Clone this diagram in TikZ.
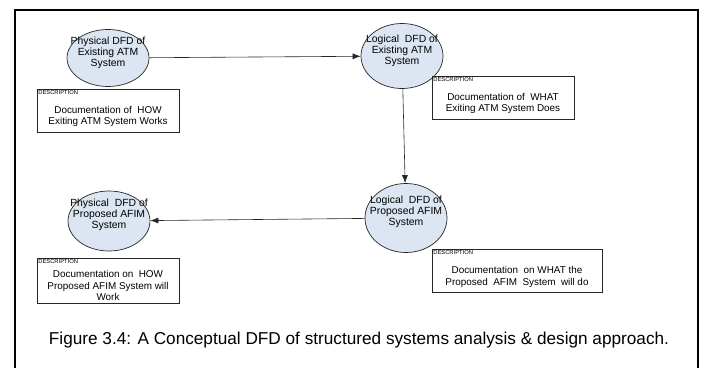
\documentclass[tikz,border=0pt]{standalone}
\usepackage{fontspec}
\setmainfont{Liberation Sans}
\usetikzlibrary{positioning,shapes,arrows,arrows.meta}
\definecolor{procfill}{RGB}{220,229,242}
\tikzstyle{ProcNode}=[ellipse, draw=black!85, fill=procfill, line width=0.7pt, minimum width=82pt, minimum height=60pt, inner sep=0pt]
\tikzstyle{ProcText}=[align=center, inner sep=0pt, font=\fontsize{10.4}{10.8}\selectfont]
\tikzstyle{DescBox}=[rectangle, draw=black!85, line width=0.7pt, minimum width=142pt, minimum height=43pt, inner sep=0pt]
\tikzstyle{DescTag}=[anchor=north west, inner sep=1.5pt, font=\fontsize{5.8}{6}\selectfont]
\tikzstyle{DescText}=[align=center, inner sep=0pt, font=\fontsize{9.9}{11.5}\selectfont]
\tikzstyle{Flow}=[-{Latex[length=8pt,width=6pt]}, line width=0.6pt, black!85]

\begin{document}
\begin{tikzpicture}[x=1pt, y=-1pt]
      \useasboundingbox (0,0) rectangle (704,367);
      % outer frame, cut off at the bottom
      \draw[line width=1.3pt] (15,380) |- (698,10) -- (698,380);
      % processes
      \node[ProcNode, minimum height=57pt] (e1) at (108,58) {};
      \node[ProcText] (e1t) at ([yshift=5pt]e1.center) {Physical DFD of\\Existing ATM\\System};
      \node[ProcNode, minimum height=65pt] (e2) at (402,56) {};
      \node[ProcText] (e2t) at ([yshift=5pt]e2.center) {Logical\ \ DFD of\\Existing ATM\\System};
      \node[ProcNode, minimum height=69pt] (e3) at (406,218) {};
      \node[ProcText] (e3t) at ([yshift=6pt]e3.center) {Logical\ \ DFD of\\Proposed AFIM\\System};
      \node[ProcNode, minimum height=60pt] (e4) at (109,221) {};
      \node[ProcText] (e4t) at ([yshift=6pt]e4.center) {Physical\ \ DFD of\\Proposed AFIM\\System};
      % descriptions
      \node[DescBox] (b1) at (108,110.5) {};
      \node[DescTag] (b1t) at (b1.north west) {DESCRIPTION};
      \node[DescText] (b1d) at ([yshift=-6pt]b1.center) {Documentation of\ \ HOW\\Exiting ATM System Works};
      \node[DescBox] (b2) at (503,97.5) {};
      \node[DescTag] (b2t) at (b2.north west) {DESCRIPTION};
      \node[DescText] (b2d) at ([yshift=-6pt]b2.center) {Documentation of\ \ WHAT\\Exiting ATM System Does};
      \node[DescBox, minimum width=170pt] (b3) at (517,271) {};
      \node[DescTag] (b3t) at (b3.north west) {DESCRIPTION};
      \node[DescText] (b3d) at ([yshift=-6pt]b3.center) {Documentation\ \ on WHAT the\\Proposed\ \ AFIM\ \ System\ \ will do};
      \node[DescBox, minimum height=45pt] (b4) at (108,280.5) {};
      \node[DescTag] (b4t) at (b4.north west) {DESCRIPTION};
      \node[DescText] (b4d) at ([yshift=-5pt]b4.center) {Documentation on\ \ HOW\\Proposed AFIM System will\\Work};
      % flows
      \draw[Flow] (e1) -- (e2);
      \draw[Flow] (e2) -- (e3);
      \draw[Flow] (e3) -- (e4);
      % caption
      \node[font=\fontsize{17.2}{19}\selectfont, inner sep=0pt] (cap) at (359,340) {Figure 3.4: A Conceptual DFD of structured systems analysis \& design approach.};
\end{tikzpicture}
\end{document}
